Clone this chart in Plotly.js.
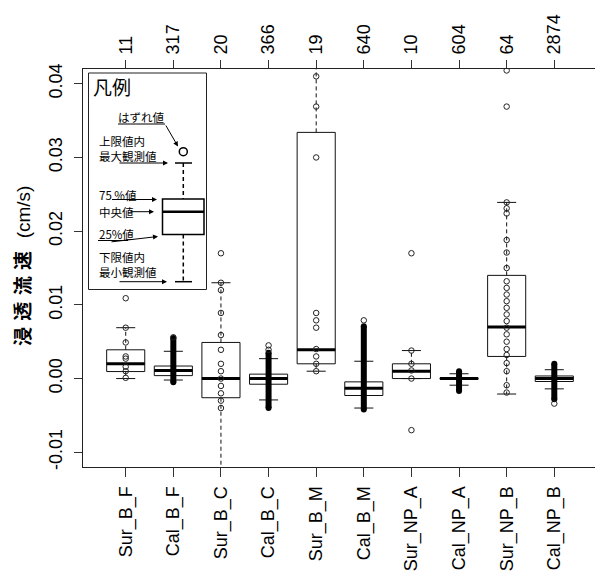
<!DOCTYPE html>
<html>
<head>
<meta charset="utf-8">
<script src="https://cdn.plot.ly/plotly-3.0.1.min.js"></script>
<style>html,body{margin:0;padding:0;background:#fff;overflow:hidden}</style>
</head>
<body>
<div id="chart" style="width:595px;height:578px"></div>
<script>
// ---- data ----
const categories = ['Sur_B_F','Cal_B_F','Sur_B_C','Cal_B_C','Sur_B_M','Cal_B_M','Sur_NP_A','Cal_NP_A','Sur_NP_B','Cal_NP_B'];
const counts = ['11','317','20','366','19','640','10','604','64','2874'];
const q1  = [0.00095, 0.0004, -0.0026, -0.00077, 0.0020, -0.0023, 0.0000, -0.0001, 0.0030, -0.0004];
const med = [0.0020, 0.0011, 0.0000, 0.0000, 0.0039, -0.0013, 0.0010, 0.0000, 0.0070, 0.0000];
const q3  = [0.0039, 0.0017, 0.0049, 0.0006, 0.0334, -0.00045, 0.0020, 0.0001, 0.0140, 0.00035];
const whiskerLo = [0.0000, -0.0002, -0.0130, -0.0029, 0.0010, -0.0040, 0.0000, -0.0009, -0.0021, -0.0014];
const whiskerHi = [0.0069, 0.0037, 0.0130, 0.0027, 0.0450, 0.00235, 0.0038, 0.00065, 0.0239, 0.0012];
// dense runs of overlapping observations (drawn as solid bars)
const denseLo = [null, -0.0005, null, -0.0040, null, -0.0042, null, -0.0017, null, -0.0028];
const denseHi = [null, 0.0055, null, 0.0035, null, 0.0071, null, 0.0010, null, 0.0020];
// individual observations visible as open circles
const ptsSurBF  = [0.0109, 0.0069, 0.0049, 0.0030, 0.0027, 0.0016, 0.0010, 0.0001];
const ptsCalBF  = [0.0056];
const ptsSurBC  = [0.0170, 0.0130, 0.0120, 0.0089, 0.0059, 0.0039, 0.0020, 0.0010, 0.0000, -0.0010, -0.0020, -0.0030, -0.0040, -0.0130];
const ptsCalBC  = [0.0045, 0.0039];
const ptsSurBM  = [0.0450, 0.0410, 0.0369, 0.0300, 0.0089, 0.0079, 0.0069, 0.0040, 0.0030, 0.0020, 0.0010];
const ptsCalBM  = [0.0079];
const ptsSurNPA = [0.0170, 0.0038, 0.0020, 0.0011, 0.0000, -0.0070];
const ptsCalNPA = [];
const ptsSurNPB = [0.0418, 0.0369, 0.0239, 0.0231, 0.0224, 0.0188, 0.0171, 0.0150, 0.0132, 0.0123, 0.0114, 0.0105, 0.0096, 0.0087, 0.0078, 0.0069, 0.0060, 0.0050, 0.0040, 0.0032, 0.0021, 0.0010, -0.0009, -0.0019];
const ptsCalNPB = [-0.0034];
const yTickVals = [-0.01, 0, 0.01, 0.02, 0.03, 0.04];
const yTickText = ['-0.01', '0.00', '0.01', '0.02', '0.03', '0.04'];

// ---- build traces ----
const pos = categories.map((c, i) => i + 1);
const allPts = [ptsSurBF, ptsCalBF, ptsSurBC, ptsCalBC, ptsSurBM, ptsCalBM, ptsSurNPA, ptsCalNPA, ptsSurNPB, ptsCalNPB];
const LINE = '#111';
const traces = [];

traces.push({
  type: 'box', x: pos, q1: q1, median: med, q3: q3,
  lowerfence: q1, upperfence: q3, width: 0.8, whiskerwidth: 0,
  fillcolor: 'rgba(255,255,255,0)', line: {color: LINE, width: 1},
  boxpoints: false, hoverinfo: 'skip', showlegend: false
});

// dashed whiskers
const wx = [], wy = [];
pos.forEach((p, i) => {
  wx.push(p, p, null, p, p, null);
  wy.push(q3[i], whiskerHi[i], null, q1[i], whiskerLo[i], null);
});
traces.push({type: 'scatter', mode: 'lines', x: wx, y: wy, line: {color: LINE, width: 1, dash: '4px,3px'}, hoverinfo: 'skip', showlegend: false});

// whisker caps
const cx = [], cy = [];
pos.forEach((p, i) => {
  cx.push(p - 0.2, p + 0.2, null, p - 0.2, p + 0.2, null);
  cy.push(whiskerHi[i], whiskerHi[i], null, whiskerLo[i], whiskerLo[i], null);
});
traces.push({type: 'scatter', mode: 'lines', x: cx, y: cy, line: {color: LINE, width: 1}, hoverinfo: 'skip', showlegend: false});

// dense bars
const dx = [], dy = [];
pos.forEach((p, i) => {
  if (denseLo[i] !== null) { dx.push(p, p, null); dy.push(denseLo[i], denseHi[i], null); }
});
traces.push({type: 'scatter', mode: 'lines+markers', x: dx, y: dy, line: {color: '#000', width: 6},
  marker: {color: '#000', size: 6, symbol: 'circle'}, hoverinfo: 'skip', showlegend: false});

// medians (thick)
const mx = [], my = [];
pos.forEach((p, i) => { mx.push(p - 0.4, p + 0.4, null); my.push(med[i], med[i], null); });
traces.push({type: 'scatter', mode: 'lines', x: mx, y: my, line: {color: '#000', width: 3}, hoverinfo: 'skip', showlegend: false});

// observations
const px = [], pyv = [];
allPts.forEach((arr, i) => arr.forEach(v => { px.push(pos[i]); pyv.push(v); }));
traces.push({type: 'scatter', mode: 'markers', x: px, y: pyv,
  marker: {symbol: 'circle-open', size: 5.5, color: '#222', line: {width: 1, color: '#222'}},
  hoverinfo: 'skip', showlegend: false});

// dummy for top axis
traces.push({type: 'scatter', mode: 'markers', x: pos, y: pos.map(() => null), xaxis: 'x2', yaxis: 'y', hoverinfo: 'skip', showlegend: false});

// ---- legend illustration (pixel helpers) ----
const L = 83, R = 595, T = 69, B = 467;
const fx = p => (p - L) / (R - L);
const fy = p => (B - p) / (B - T);
const shapes = [];
const ln = (x0, y0, x1, y1, w, dash) => shapes.push({type: 'line', xref: 'paper', yref: 'paper',
  x0: fx(x0), y0: fy(y0), x1: fx(x1), y1: fy(y1), line: {color: '#000', width: w || 1, dash: dash || 'solid'}});
// legend frame
shapes.push({type: 'rect', xref: 'paper', yref: 'paper', x0: fx(88.5), y0: fy(73), x1: fx(206.5), y1: fy(289.5),
  line: {color: '#222', width: 1}, fillcolor: 'rgba(255,255,255,0)'});
// legend box glyph
shapes.push({type: 'rect', xref: 'paper', yref: 'paper', x0: fx(162.5), y0: fy(199), x1: fx(204), y1: fy(234.5),
  line: {color: '#000', width: 1.5}});
ln(162.5, 211.7, 204, 211.7, 2.5);
ln(183.3, 163, 183.3, 199, 1.5, '4px,3px');
ln(183.3, 234.5, 183.3, 281.7, 1.5, '4px,3px');
ln(175, 163, 192, 163, 1.5);
ln(175, 281.7, 192, 281.7, 1.5);
shapes.push({type: 'circle', xref: 'paper', yref: 'paper', x0: fx(179.3), y0: fy(147.7), x1: fx(187.3), y1: fy(155.7),
  line: {color: '#000', width: 1.5}});
// underlines
ln(118, 124, 165, 124, 1);
ln(112, 199.5, 130, 199.5, 1);
ln(98, 240.5, 128, 240.5, 1);

const annotations = [];
const txt = (t, x, y, size, extra) => annotations.push(Object.assign({text: t, xref: 'paper', yref: 'paper', x: fx(x), y: fy(y),
  xanchor: 'left', yanchor: 'middle', align: 'left', showarrow: false, borderpad: 0,
  font: {family: 'Noto Sans CJK JP', size: size || 11.5, color: '#000'}}, extra || {}));
const arrow = (tx, ty, hx, hy) => annotations.push({text: '', xref: 'paper', yref: 'paper', x: fx(hx), y: fy(hy),
  ax: tx - hx, ay: ty - hy, showarrow: true, arrowhead: 2, arrowsize: 1, arrowwidth: 1, arrowcolor: '#000', standoff: 0});
txt('凡例', 92, 86.7, 19);
txt('はずれ値', 117, 117.5);
txt('上限値内<br>最大観測値', 98, 148.5);
txt('75 %値', 98, 194.5);
txt('中央値', 98, 211.7);
txt('25%値', 98, 234);
txt('下限値内<br>最小観測値', 98, 264.5);
arrow(165, 124, 178, 146.5);
arrow(118, 163, 168, 163);
arrow(112, 199.5, 157, 199.5);
arrow(129, 211.7, 154, 211.7);
arrow(110, 242, 158, 236.5);
arrow(118, 281.7, 167, 281.7);

// y title
const sp = '\u2004';
annotations.push({text: '<b>浸' + sp + '透' + sp + '流' + sp + '速</b>' + sp + sp + '<span style="font-family:Liberation Sans">(cm/s)</span>',
  xref: 'paper', yref: 'paper', x: fx(21), y: fy(266), xanchor: 'center', yanchor: 'middle',
  textangle: -90, showarrow: false, font: {family: 'Noto Sans CJK JP', size: 19, color: '#000'}});

const tickFont = {family: 'Liberation Sans, Arial, sans-serif', size: 18, color: '#000'};
const xRange = [0.103, 10.855];
const layout = {
  width: 595, height: 578,
  margin: {l: L, r: 595 - R, t: T, b: 578 - B, pad: 0},
  paper_bgcolor: '#fff', plot_bgcolor: '#fff',
  showlegend: false,
  xaxis: {range: xRange, tickvals: pos, ticktext: categories, tickangle: -90, tickfont: tickFont,
    ticks: 'outside', ticklen: 9, tickcolor: '#333', tickwidth: 1, showline: true, linecolor: '#222', linewidth: 1,
    showgrid: false, zeroline: false, ticklabelstandoff: 2},
  xaxis2: {range: xRange, overlaying: 'x', side: 'top', tickvals: pos, ticktext: counts, tickangle: -90, tickfont: tickFont,
    ticks: 'outside', ticklen: 8, tickcolor: '#333', tickwidth: 1, showline: true, linecolor: '#222', linewidth: 1,
    showgrid: false, zeroline: false, ticklabelstandoff: 2},
  yaxis: {range: [-0.012, 0.042], tickvals: yTickVals, ticktext: yTickText, tickangle: -90, tickfont: tickFont,
    ticks: 'outside', ticklen: 8, tickcolor: '#333', tickwidth: 1, showline: true, linecolor: '#222', linewidth: 1,
    showgrid: false, zeroline: false, ticklabelstandoff: 5},
  shapes: shapes,
  annotations: annotations
};
Plotly.newPlot('chart', traces, layout, {staticPlot: true, displayModeBar: false});
</script>
</body>
</html>
